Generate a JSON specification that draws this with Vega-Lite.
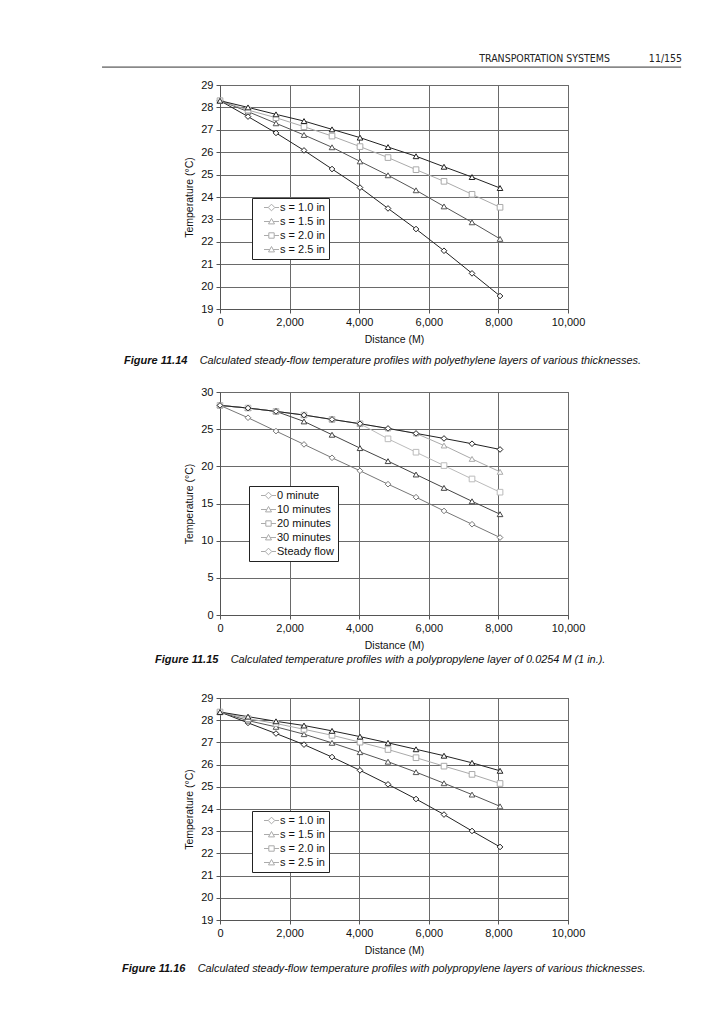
{
  "$schema": "https://vega.github.io/schema/vega-lite/v6.json",
  "padding": {"left": 101, "top": 53, "right": 10, "bottom": 10},
  "background": "white",
  "title": {
    "text": "TRANSPORTATION SYSTEMS\u00a0\u00a0\u00a0\u00a0\u00a0\u00a0\u00a0\u00a0\u00a0\u00a0\u00a0\u00a0\u00a011/155",
    "anchor": "end",
    "font": "Liberation Sans Narrow, DejaVu Sans Condensed, Liberation Sans",
    "fontSize": 10.5,
    "fontWeight": "normal",
    "fontStyle": "normal",
    "color": "#222",
    "offset": 2
  },
  "datasets": {
    "c1": [
      {"d": 0, "t": 28.3, "s": "s = 1.0 in"}, {"d": 805, "t": 27.59, "s": "s = 1.0 in"}, {"d": 1609, "t": 26.86, "s": "s = 1.0 in"}, {"d": 2414, "t": 26.08, "s": "s = 1.0 in"}, {"d": 3219, "t": 25.25, "s": "s = 1.0 in"}, {"d": 4023, "t": 24.42, "s": "s = 1.0 in"}, {"d": 4828, "t": 23.49, "s": "s = 1.0 in"}, {"d": 5633, "t": 22.57, "s": "s = 1.0 in"}, {"d": 6437, "t": 21.6, "s": "s = 1.0 in"}, {"d": 7242, "t": 20.59, "s": "s = 1.0 in"}, {"d": 8047, "t": 19.58, "s": "s = 1.0 in"},
      {"d": 0, "t": 28.3, "s": "s = 1.5 in"}, {"d": 805, "t": 27.81, "s": "s = 1.5 in"}, {"d": 1609, "t": 27.29, "s": "s = 1.5 in"}, {"d": 2414, "t": 26.77, "s": "s = 1.5 in"}, {"d": 3219, "t": 26.22, "s": "s = 1.5 in"}, {"d": 4023, "t": 25.59, "s": "s = 1.5 in"}, {"d": 4828, "t": 24.97, "s": "s = 1.5 in"}, {"d": 5633, "t": 24.3, "s": "s = 1.5 in"}, {"d": 6437, "t": 23.58, "s": "s = 1.5 in"}, {"d": 7242, "t": 22.87, "s": "s = 1.5 in"}, {"d": 8047, "t": 22.13, "s": "s = 1.5 in"},
      {"d": 0, "t": 28.3, "s": "s = 2.0 in"}, {"d": 805, "t": 27.88, "s": "s = 2.0 in"}, {"d": 1609, "t": 27.54, "s": "s = 2.0 in"}, {"d": 2414, "t": 27.14, "s": "s = 2.0 in"}, {"d": 3219, "t": 26.72, "s": "s = 2.0 in"}, {"d": 4023, "t": 26.25, "s": "s = 2.0 in"}, {"d": 4828, "t": 25.76, "s": "s = 2.0 in"}, {"d": 5633, "t": 25.22, "s": "s = 2.0 in"}, {"d": 6437, "t": 24.7, "s": "s = 2.0 in"}, {"d": 7242, "t": 24.12, "s": "s = 2.0 in"}, {"d": 8047, "t": 23.54, "s": "s = 2.0 in"},
      {"d": 0, "t": 28.3, "s": "s = 2.5 in"}, {"d": 805, "t": 28.0, "s": "s = 2.5 in"}, {"d": 1609, "t": 27.69, "s": "s = 2.5 in"}, {"d": 2414, "t": 27.39, "s": "s = 2.5 in"}, {"d": 3219, "t": 27.02, "s": "s = 2.5 in"}, {"d": 4023, "t": 26.65, "s": "s = 2.5 in"}, {"d": 4828, "t": 26.23, "s": "s = 2.5 in"}, {"d": 5633, "t": 25.82, "s": "s = 2.5 in"}, {"d": 6437, "t": 25.35, "s": "s = 2.5 in"}, {"d": 7242, "t": 24.89, "s": "s = 2.5 in"}, {"d": 8047, "t": 24.4, "s": "s = 2.5 in"}
    ],
    "c2": [
      {"d": 0, "t": 28.2, "s": "0 minute"}, {"d": 805, "t": 26.54, "s": "0 minute"}, {"d": 1609, "t": 24.74, "s": "0 minute"}, {"d": 2414, "t": 22.95, "s": "0 minute"}, {"d": 3219, "t": 21.15, "s": "0 minute"}, {"d": 4023, "t": 19.4, "s": "0 minute"}, {"d": 4828, "t": 17.6, "s": "0 minute"}, {"d": 5633, "t": 15.85, "s": "0 minute"}, {"d": 6437, "t": 14.0, "s": "0 minute"}, {"d": 7242, "t": 12.21, "s": "0 minute"}, {"d": 8047, "t": 10.42, "s": "0 minute"},
      {"d": 0, "t": 28.2, "s": "10 minutes"}, {"d": 805, "t": 27.84, "s": "10 minutes"}, {"d": 1609, "t": 27.39, "s": "10 minutes"}, {"d": 2414, "t": 26.04, "s": "10 minutes"}, {"d": 3219, "t": 24.25, "s": "10 minutes"}, {"d": 4023, "t": 22.45, "s": "10 minutes"}, {"d": 4828, "t": 20.7, "s": "10 minutes"}, {"d": 5633, "t": 18.9, "s": "10 minutes"}, {"d": 6437, "t": 17.1, "s": "10 minutes"}, {"d": 7242, "t": 15.3, "s": "10 minutes"}, {"d": 8047, "t": 13.56, "s": "10 minutes"},
      {"d": 0, "t": 28.2, "s": "20 minutes"}, {"d": 805, "t": 27.84, "s": "20 minutes"}, {"d": 1609, "t": 27.39, "s": "20 minutes"}, {"d": 2414, "t": 26.9, "s": "20 minutes"}, {"d": 3219, "t": 26.31, "s": "20 minutes"}, {"d": 4023, "t": 25.73, "s": "20 minutes"}, {"d": 4828, "t": 23.7, "s": "20 minutes"}, {"d": 5633, "t": 21.9, "s": "20 minutes"}, {"d": 6437, "t": 20.1, "s": "20 minutes"}, {"d": 7242, "t": 18.3, "s": "20 minutes"}, {"d": 8047, "t": 16.52, "s": "20 minutes"},
      {"d": 0, "t": 28.2, "s": "30 minutes"}, {"d": 805, "t": 27.84, "s": "30 minutes"}, {"d": 1609, "t": 27.39, "s": "30 minutes"}, {"d": 2414, "t": 26.9, "s": "30 minutes"}, {"d": 3219, "t": 26.31, "s": "30 minutes"}, {"d": 4023, "t": 25.73, "s": "30 minutes"}, {"d": 4828, "t": 25.1, "s": "30 minutes"}, {"d": 5633, "t": 24.43, "s": "30 minutes"}, {"d": 6437, "t": 22.8, "s": "30 minutes"}, {"d": 7242, "t": 21.0, "s": "30 minutes"}, {"d": 8047, "t": 19.26, "s": "30 minutes"},
      {"d": 0, "t": 28.2, "s": "Steady flow"}, {"d": 805, "t": 27.84, "s": "Steady flow"}, {"d": 1609, "t": 27.39, "s": "Steady flow"}, {"d": 2414, "t": 26.9, "s": "Steady flow"}, {"d": 3219, "t": 26.31, "s": "Steady flow"}, {"d": 4023, "t": 25.73, "s": "Steady flow"}, {"d": 4828, "t": 25.1, "s": "Steady flow"}, {"d": 5633, "t": 24.43, "s": "Steady flow"}, {"d": 6437, "t": 23.75, "s": "Steady flow"}, {"d": 7242, "t": 23.04, "s": "Steady flow"}, {"d": 8047, "t": 22.27, "s": "Steady flow"}
    ],
    "c3": [
      {"d": 0, "t": 28.37, "s": "s = 1.0 in"}, {"d": 805, "t": 27.88, "s": "s = 1.0 in"}, {"d": 1609, "t": 27.4, "s": "s = 1.0 in"}, {"d": 2414, "t": 26.9, "s": "s = 1.0 in"}, {"d": 3219, "t": 26.34, "s": "s = 1.0 in"}, {"d": 4023, "t": 25.74, "s": "s = 1.0 in"}, {"d": 4828, "t": 25.11, "s": "s = 1.0 in"}, {"d": 5633, "t": 24.45, "s": "s = 1.0 in"}, {"d": 6437, "t": 23.75, "s": "s = 1.0 in"}, {"d": 7242, "t": 23.01, "s": "s = 1.0 in"}, {"d": 8047, "t": 22.29, "s": "s = 1.0 in"},
      {"d": 0, "t": 28.37, "s": "s = 1.5 in"}, {"d": 805, "t": 27.98, "s": "s = 1.5 in"}, {"d": 1609, "t": 27.7, "s": "s = 1.5 in"}, {"d": 2414, "t": 27.37, "s": "s = 1.5 in"}, {"d": 3219, "t": 26.98, "s": "s = 1.5 in"}, {"d": 4023, "t": 26.56, "s": "s = 1.5 in"}, {"d": 4828, "t": 26.13, "s": "s = 1.5 in"}, {"d": 5633, "t": 25.66, "s": "s = 1.5 in"}, {"d": 6437, "t": 25.16, "s": "s = 1.5 in"}, {"d": 7242, "t": 24.65, "s": "s = 1.5 in"}, {"d": 8047, "t": 24.12, "s": "s = 1.5 in"},
      {"d": 0, "t": 28.37, "s": "s = 2.0 in"}, {"d": 805, "t": 28.07, "s": "s = 2.0 in"}, {"d": 1609, "t": 27.85, "s": "s = 2.0 in"}, {"d": 2414, "t": 27.59, "s": "s = 2.0 in"}, {"d": 3219, "t": 27.32, "s": "s = 2.0 in"}, {"d": 4023, "t": 27.01, "s": "s = 2.0 in"}, {"d": 4828, "t": 26.68, "s": "s = 2.0 in"}, {"d": 5633, "t": 26.31, "s": "s = 2.0 in"}, {"d": 6437, "t": 25.93, "s": "s = 2.0 in"}, {"d": 7242, "t": 25.56, "s": "s = 2.0 in"}, {"d": 8047, "t": 25.15, "s": "s = 2.0 in"},
      {"d": 0, "t": 28.37, "s": "s = 2.5 in"}, {"d": 805, "t": 28.16, "s": "s = 2.5 in"}, {"d": 1609, "t": 27.95, "s": "s = 2.5 in"}, {"d": 2414, "t": 27.76, "s": "s = 2.5 in"}, {"d": 3219, "t": 27.52, "s": "s = 2.5 in"}, {"d": 4023, "t": 27.26, "s": "s = 2.5 in"}, {"d": 4828, "t": 26.98, "s": "s = 2.5 in"}, {"d": 5633, "t": 26.69, "s": "s = 2.5 in"}, {"d": 6437, "t": 26.4, "s": "s = 2.5 in"}, {"d": 7242, "t": 26.08, "s": "s = 2.5 in"}, {"d": 8047, "t": 25.72, "s": "s = 2.5 in"}
    ]
  },
  "bounds": "flush",
  "spacing": 83,
  "resolve": {"scale": {"color": "independent", "shape": "independent", "stroke": "independent", "x": "independent", "y": "independent"}, "legend": {"color": "independent", "shape": "independent", "stroke": "independent"}},
  "vconcat": [
    {
      "width": 348,
      "height": 224,
      "data": {"name": "c1"},
      "title": {
        "text": "Figure 11.14",
        "subtitle": "\u200b\u00a0\u00a0\u00a0\u00a0\u00a0\u00a0\u00a0\u00a0\u00a0\u00a0\u00a0\u00a0\u00a0\u00a0\u00a0\u00a0\u00a0\u00a0\u00a0\u00a0\u00a0\u00a0\u00a0\u00a0\u00a0Calculated steady-flow temperature profiles with polyethylene layers of various thicknesses.",
        "orient": "bottom", "anchor": "start", "frame": "group", "dx": -96, "offset": 10
      },
      "resolve": {"scale": {"shape": "independent"}},
      "layer": [
        {
          "data": {"values": [{}]},
          "mark": {"type": "rule", "color": "#333", "strokeWidth": 1},
          "encoding": {
            "x": {"datum": -3390, "type": "quantitative"},
            "x2": {"datum": 13250},
            "y": {"datum": 29.8, "type": "quantitative"}
          }
        },
        {
          "mark": {"type": "line", "strokeWidth": 1},
          "encoding": {
            "x": {"field": "d", "type": "quantitative", "scale": {"domain": [0, 10000], "nice": false}, "axis": {"values": [0, 2000, 4000, 6000, 8000, 10000], "tickCount": 30, "format": ",.0f", "title": "Distance (M)"}},
            "y": {"field": "t", "type": "quantitative", "scale": {"domain": [19, 29], "nice": false, "zero": false}, "axis": {"values": [19, 20, 21, 22, 23, 24, 25, 26, 27, 28, 29], "tickCount": 30, "format": "d", "title": "Temperature (°C)"}},
            "color": {"field": "s", "type": "nominal", "scale": {"domain": ["s = 1.0 in", "s = 1.5 in", "s = 2.0 in", "s = 2.5 in"], "range": ["#222222", "#555555", "#aaaaaa", "#222222"]}, "legend": null}
          }
        },
        {
          "mark": {"type": "point", "filled": false, "fill": "white", "size": 32, "strokeWidth": 1, "opacity": 1},
          "encoding": {
            "x": {"field": "d", "type": "quantitative"},
            "y": {"field": "t", "type": "quantitative"},
            "color": {"field": "s", "type": "nominal", "legend": null},
            "shape": {"field": "s", "type": "nominal", "scale": {"domain": ["s = 1.0 in", "s = 1.5 in", "s = 2.0 in", "s = 2.5 in"], "range": ["diamond", "triangle-up", "square", "triangle-up"]}, "legend": null}
          }
        },
        {
          "transform": [{"filter": "datum.d < 0"}],
          "mark": {"type": "point", "filled": false, "size": 36, "strokeWidth": 1},
          "encoding": {
            "x": {"field": "d", "type": "quantitative"},
            "y": {"field": "t", "type": "quantitative"},
            "stroke": {"field": "s", "type": "nominal", "scale": {"domain": ["s = 1.0 in", "s = 1.5 in", "s = 2.0 in", "s = 2.5 in"], "range": ["#222222", "#555555", "#aaaaaa", "#222222"]}, "legend": {"orient": "none", "legendX": 32, "legendY": 113, "labelColor": "#111111"}},
            "shape": {"field": "s", "type": "nominal", "scale": {"domain": ["s = 1.0 in", "s = 1.5 in", "s = 2.0 in", "s = 2.5 in"], "range": ["M-2.5,0H-1.1M1.1,0H2.5M0,-1.1L1.1,0L0,1.1L-1.1,0Z", "M-2.5,0H-0.56M0.56,0H2.5M0,-1L1,0.8H-1Z", "M-2.5,0H-0.9M0.9,0H2.5M-0.9,-0.9H0.9V0.9H-0.9Z", "M-2.5,0H-0.56M0.56,0H2.5M0,-1L1,0.8H-1Z"]}, "legend": {"orient": "none", "legendX": 32, "legendY": 113, "labelColor": "#111111"}}
          }
        }
      ]
    },
    {
      "width": 348,
      "height": 223,
      "data": {"name": "c2"},
      "title": {
        "text": "Figure 11.15",
        "subtitle": "\u200b\u00a0\u00a0\u00a0\u00a0\u00a0\u00a0\u00a0\u00a0\u00a0\u00a0\u00a0\u00a0\u00a0\u00a0\u00a0\u00a0\u00a0\u00a0\u00a0\u00a0\u00a0\u00a0\u00a0\u00a0\u00a0Calculated temperature profiles with a polypropylene layer of 0.0254 M (1 in.).",
        "orient": "bottom", "anchor": "start", "frame": "group", "dx": -65, "offset": 3
      },
      "resolve": {"scale": {"shape": "independent"}},
      "layer": [
        {
          "mark": {"type": "line", "strokeWidth": 1},
          "encoding": {
            "x": {"field": "d", "type": "quantitative", "scale": {"domain": [0, 10000], "nice": false}, "axis": {"values": [0, 2000, 4000, 6000, 8000, 10000], "tickCount": 30, "format": ",.0f", "title": "Distance (M)"}},
            "y": {"field": "t", "type": "quantitative", "scale": {"domain": [0, 30], "nice": false}, "axis": {"values": [0, 5, 10, 15, 20, 25, 30], "tickCount": 30, "format": "d", "title": "Temperature (°C)"}},
            "color": {"field": "s", "type": "nominal", "scale": {"domain": ["0 minute", "10 minutes", "20 minutes", "30 minutes", "Steady flow"], "range": ["#777777", "#444444", "#bbbbbb", "#aaaaaa", "#222222"]}, "legend": null}
          }
        },
        {
          "mark": {"type": "point", "filled": false, "fill": "white", "size": 32, "strokeWidth": 1, "opacity": 1},
          "encoding": {
            "x": {"field": "d", "type": "quantitative"},
            "y": {"field": "t", "type": "quantitative"},
            "color": {"field": "s", "type": "nominal", "legend": null},
            "shape": {"field": "s", "type": "nominal", "scale": {"domain": ["0 minute", "10 minutes", "20 minutes", "30 minutes", "Steady flow"], "range": ["diamond", "triangle-up", "square", "triangle-up", "diamond"]}, "legend": null}
          }
        },
        {
          "transform": [{"filter": "datum.d < 0"}],
          "mark": {"type": "point", "filled": false, "size": 36, "strokeWidth": 1},
          "encoding": {
            "x": {"field": "d", "type": "quantitative"},
            "y": {"field": "t", "type": "quantitative"},
            "stroke": {"field": "s", "type": "nominal", "scale": {"domain": ["0 minute", "10 minutes", "20 minutes", "30 minutes", "Steady flow"], "range": ["#777777", "#444444", "#bbbbbb", "#aaaaaa", "#222222"]}, "legend": {"orient": "none", "legendX": 29, "legendY": 94, "labelColor": "#111111"}},
            "shape": {"field": "s", "type": "nominal", "scale": {"domain": ["0 minute", "10 minutes", "20 minutes", "30 minutes", "Steady flow"], "range": ["M-2.5,0H-1.1M1.1,0H2.5M0,-1.1L1.1,0L0,1.1L-1.1,0Z", "M-2.5,0H-0.56M0.56,0H2.5M0,-1L1,0.8H-1Z", "M-2.5,0H-0.9M0.9,0H2.5M-0.9,-0.9H0.9V0.9H-0.9Z", "M-2.5,0H-0.56M0.56,0H2.5M0,-1L1,0.8H-1Z", "M-2.5,0H-1.1M1.1,0H2.5M0,-1.1L1.1,0L0,1.1L-1.1,0Z"]}, "legend": {"orient": "none", "legendX": 29, "legendY": 94, "labelColor": "#111111"}}
          }
        }
      ]
    },
    {
      "width": 348,
      "height": 222,
      "data": {"name": "c3"},
      "title": {
        "text": "Figure 11.16",
        "subtitle": "\u200b\u00a0\u00a0\u00a0\u00a0\u00a0\u00a0\u00a0\u00a0\u00a0\u00a0\u00a0\u00a0\u00a0\u00a0\u00a0\u00a0\u00a0\u00a0\u00a0\u00a0\u00a0\u00a0\u00a0\u00a0\u00a0Calculated steady-flow temperature profiles with polypropylene layers of various thicknesses.",
        "orient": "bottom", "anchor": "start", "frame": "group", "dx": -98, "offset": 7
      },
      "resolve": {"scale": {"shape": "independent"}},
      "layer": [
        {
          "mark": {"type": "line", "strokeWidth": 1},
          "encoding": {
            "x": {"field": "d", "type": "quantitative", "scale": {"domain": [0, 10000], "nice": false}, "axis": {"values": [0, 2000, 4000, 6000, 8000, 10000], "tickCount": 30, "format": ",.0f", "title": "Distance (M)"}},
            "y": {"field": "t", "type": "quantitative", "scale": {"domain": [19, 29], "nice": false, "zero": false}, "axis": {"values": [19, 20, 21, 22, 23, 24, 25, 26, 27, 28, 29], "tickCount": 30, "format": "d", "title": "Temperature (°C)"}},
            "color": {"field": "s", "type": "nominal", "scale": {"domain": ["s = 1.0 in", "s = 1.5 in", "s = 2.0 in", "s = 2.5 in"], "range": ["#222222", "#555555", "#aaaaaa", "#222222"]}, "legend": null}
          }
        },
        {
          "mark": {"type": "point", "filled": false, "fill": "white", "size": 32, "strokeWidth": 1, "opacity": 1},
          "encoding": {
            "x": {"field": "d", "type": "quantitative"},
            "y": {"field": "t", "type": "quantitative"},
            "color": {"field": "s", "type": "nominal", "legend": null},
            "shape": {"field": "s", "type": "nominal", "scale": {"domain": ["s = 1.0 in", "s = 1.5 in", "s = 2.0 in", "s = 2.5 in"], "range": ["diamond", "triangle-up", "square", "triangle-up"]}, "legend": null}
          }
        },
        {
          "transform": [{"filter": "datum.d < 0"}],
          "mark": {"type": "point", "filled": false, "size": 36, "strokeWidth": 1},
          "encoding": {
            "x": {"field": "d", "type": "quantitative"},
            "y": {"field": "t", "type": "quantitative"},
            "stroke": {"field": "s", "type": "nominal", "scale": {"domain": ["s = 1.0 in", "s = 1.5 in", "s = 2.0 in", "s = 2.5 in"], "range": ["#222222", "#555555", "#aaaaaa", "#222222"]}, "legend": {"orient": "none", "legendX": 32, "legendY": 113, "labelColor": "#111111"}},
            "shape": {"field": "s", "type": "nominal", "scale": {"domain": ["s = 1.0 in", "s = 1.5 in", "s = 2.0 in", "s = 2.5 in"], "range": ["M-2.5,0H-1.1M1.1,0H2.5M0,-1.1L1.1,0L0,1.1L-1.1,0Z", "M-2.5,0H-0.56M0.56,0H2.5M0,-1L1,0.8H-1Z", "M-2.5,0H-0.9M0.9,0H2.5M-0.9,-0.9H0.9V0.9H-0.9Z", "M-2.5,0H-0.56M0.56,0H2.5M0,-1L1,0.8H-1Z"]}, "legend": {"orient": "none", "legendX": 32, "legendY": 113, "labelColor": "#111111"}}
          }
        }
      ]
    }
  ],
  "config": {
    "font": "Liberation Sans",
    "view": {"stroke": "#555555", "strokeWidth": 1},
    "axis": {
      "grid": true, "gridColor": "#6a6a6a", "gridOpacity": 1, "gridWidth": 1,
      "domainColor": "#555555", "tickColor": "#555555", "tickSize": 4,
      "labelFont": "Liberation Sans", "labelFontSize": 11, "labelColor": "#111111", "labelFlush": false, "labelOverlap": false,
      "titleFont": "Liberation Sans", "titleFontSize": 10.5, "titleFontWeight": "normal", "titleColor": "#111111"
    },
    "axisX": {"labelPadding": 3, "titlePadding": 7},
    "axisY": {"labelPadding": 3, "titlePadding": 6},
    "legend": {
      "title": null, "fillColor": "white", "strokeColor": "#222222", "padding": 4,
      "labelFont": "Liberation Sans", "labelFontSize": 11, "labelColor": "#111111",
      "symbolSize": 36, "symbolStrokeWidth": 1, "rowPadding": 2, "labelOffset": 3, "symbolOffset": 10
    },
    "title": {
      "font": "Liberation Sans", "fontSize": 11, "fontStyle": "italic", "fontWeight": "bold", "color": "#111111",
      "subtitleFont": "Liberation Sans", "subtitleFontSize": 10.9, "subtitleFontStyle": "italic", "subtitleFontWeight": "normal", "subtitleColor": "#111111",
      "subtitlePadding": -11
    }
  }
}
